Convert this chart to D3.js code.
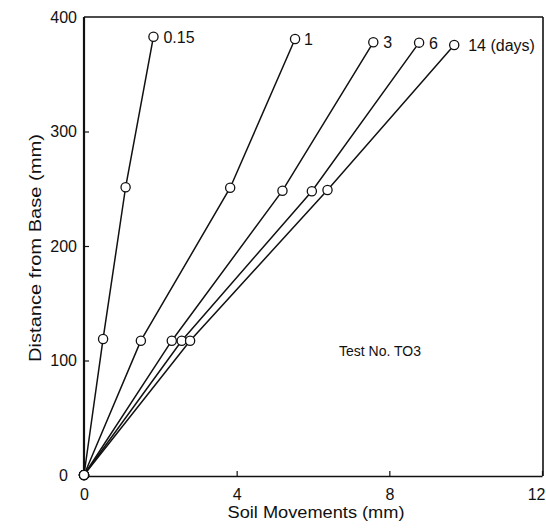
<!DOCTYPE html>
<html>
<head>
<meta charset="utf-8">
<script src="https://cdn.jsdelivr.net/npm/d3@7"></script>
<style>
  html, body { margin: 0; padding: 0; background: #fff; }
  svg { display: block; }
  text { font-family: "Liberation Sans", Arial, Helvetica, sans-serif; fill: #111; }
</style>
</head>
<body>
<svg id="chart" width="546" height="528"></svg>
<script>
// ---- data ----
const seriesLabels = ["0.15", "1", "3", "6", "14 (days)"];
const depths015 = [0, 118.8, 251.3, 382.8];
const moves015  = [0, 0.50, 1.09, 1.82];
const depths1   = [0, 117.3, 250.9, 380.8];
const moves1    = [0, 1.49, 3.83, 5.53];
const depths3   = [0, 117.3, 248.3, 377.9];
const moves3    = [0, 2.30, 5.20, 7.58];
const depths6   = [0, 117.3, 247.8, 377.6];
const moves6    = [0, 2.56, 5.97, 8.78];
const depths14  = [0, 117.3, 248.9, 375.5];
const moves14   = [0, 2.78, 6.38, 9.70];
const xTicks = [0, 4, 8, 12];
const yTicks = [0, 100, 200, 300, 400];
const xTitle = "Soil Movements (mm)";
const yTitle = "Distance from Base (mm)";
const note = "Test No. TO3";

const series = [
  { label: seriesLabels[0], x: moves015, y: depths015 },
  { label: seriesLabels[1], x: moves1,   y: depths1 },
  { label: seriesLabels[2], x: moves3,   y: depths3 },
  { label: seriesLabels[3], x: moves6,   y: depths6 },
  { label: seriesLabels[4], x: moves14,  y: depths14 }
];
const labelDx = [10, 9, 10, 10, 14];

// ---- layout ----
const L = 84, R = 542, T = 17, B = 475;
const x = d3.scaleLinear().domain([0, 12]).range([L, R]);
const y = d3.scaleLinear().domain([0, 400]).range([B, T]);

const svg = d3.select("#chart");

// frame
svg.append("line").attr("x1", L).attr("x2", L).attr("y1", T).attr("y2", B + 1)
  .attr("stroke", "#111").attr("stroke-width", 2.2);
svg.append("line").attr("x1", L).attr("x2", R + 1).attr("y1", T).attr("y2", T)
  .attr("stroke", "#111").attr("stroke-width", 1.6);
svg.append("line").attr("x1", R + 1).attr("x2", R + 1).attr("y1", T).attr("y2", B + 1)
  .attr("stroke", "#111").attr("stroke-width", 1.6);

// axes
const xAxis = d3.axisBottom(x).tickValues(xTicks).tickFormat(d3.format("d"))
  .tickSizeInner(-5).tickSizeOuter(0).tickPadding(13);
const gx = svg.append("g").attr("transform", `translate(0,${B + 1})`).call(xAxis);
gx.select(".domain").attr("stroke", "#111").attr("stroke-width", 1.6);
gx.selectAll(".tick line").attr("stroke", "#111").attr("stroke-width", 1.2);
gx.selectAll(".tick text").attr("font-size", 16).attr("fill", "#111")
  .style("font-family", '"Liberation Sans", Arial, sans-serif');
gx.selectAll(".tick").filter(d => d === 0).select("line").remove();
// last label sits at the page edge: right-align it so it stays inside
gx.selectAll(".tick").filter(d => d === 12).select("text")
  .attr("text-anchor", "end").attr("x", 3);

const yAxis = d3.axisLeft(y).tickValues(yTicks).tickFormat(d3.format("d"))
  .tickSizeInner(-5).tickSizeOuter(0).tickPadding(7);
const gy = svg.append("g").attr("transform", `translate(${L},0)`).call(yAxis);
gy.select(".domain").remove();
gy.selectAll(".tick line").attr("stroke", "#111").attr("stroke-width", 1.2);
gy.selectAll(".tick text").attr("font-size", 16).attr("fill", "#111")
  .style("font-family", '"Liberation Sans", Arial, sans-serif');
gy.selectAll(".tick").filter(d => d === 0 || d === 400).select("line").remove();
gy.selectAll(".tick").filter(d => d === 0).select("text").attr("x", -16);

// lines
const line = d3.line().x(d => x(d[0])).y(d => y(d[1]));
series.forEach((s, i) => {
  const pts = s.x.map((v, j) => [v, s.y[j]]);
  svg.append("path").datum(pts).attr("d", line)
    .attr("fill", "none").attr("stroke", "#111").attr("stroke-width", 1.5);
});
// markers
series.forEach((s, i) => {
  const pts = s.x.map((v, j) => [v, s.y[j]]);
  svg.selectAll(null).data(pts).enter().append("circle")
    .attr("cx", d => x(d[0])).attr("cy", d => y(d[1])).attr("r", 4.6)
    .attr("fill", "#fff").attr("stroke", "#111").attr("stroke-width", 1.3);
  const last = pts[pts.length - 1];
  svg.append("text").attr("x", x(last[0]) + labelDx[i]).attr("y", y(last[1]) + 6)
    .attr("font-size", 16).text(s.label);
});

// titles
svg.append("text").attr("x", 316).attr("y", 518).attr("text-anchor", "middle")
  .attr("font-size", 16).attr("textLength", 177).attr("lengthAdjust", "spacingAndGlyphs")
  .text(xTitle);
svg.append("text").attr("transform", "translate(41,248) rotate(-90)")
  .attr("text-anchor", "middle").attr("font-size", 16)
  .attr("textLength", 228).attr("lengthAdjust", "spacingAndGlyphs")
  .text(yTitle);
svg.append("text").attr("x", 339).attr("y", 356).attr("font-size", 14).text(note);
</script>
</body>
</html>
